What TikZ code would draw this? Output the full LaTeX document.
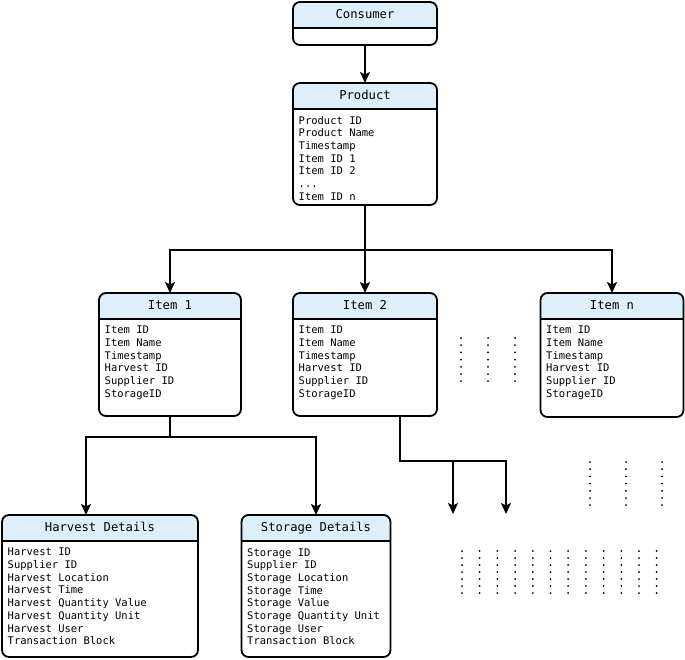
\documentclass[tikz,border=0pt]{standalone}
\usepackage{fontspec}
\newfontfamily\boxfont{DejaVu Sans Mono}
\usepackage{tikz}
\usetikzlibrary{arrows.meta,calc}
\definecolor{headblue}{RGB}{220,239,251}

\tikzset{
  entbox/.style={rectangle, inner sep=0pt, outer sep=0pt, anchor=north},
  boxline/.style={line width=1.8pt},
  headtext/.style={font=\boxfont\fontsize{12.2}{14}\selectfont, inner sep=0pt, text height=8pt, text depth=2pt},
  bodytext/.style={font=\boxfont\fontsize{10.5}{12.7}\selectfont, align=left, inner sep=0pt, anchor=north west},
  link/.style={line width=2pt},
  linkarrow/.style={link, -{Stealth[length=11pt,width=10pt,inset=2.5pt]}},
}

% name, top centre, width, height, title, fields
\newcommand{\entity}[6]{%
  \node[entbox, minimum width=#3, minimum height=#4] (#1) at #2 {};
  \begin{scope}
    \clip[rounded corners=7pt] (#1.north west) rectangle (#1.south east);
    \fill[headblue] (#1.north west) rectangle ([yshift=-26pt]#1.north east);
  \end{scope}
  \draw[boxline] ([yshift=-26pt]#1.north west) -- ([yshift=-26pt]#1.north east);
  \draw[boxline, rounded corners=7pt] (#1.north west) rectangle (#1.south east);
  \node[headtext] (#1-title) at ([yshift=-13pt]#1.north) {#5};
  \node[bodytext] (#1-body) at ([xshift=5.5pt,yshift=-33pt]#1.north west) {#6};
}

\begin{document}
\begin{tikzpicture}[x=1pt,y=-1pt]
  \useasboundingbox (0,0) rectangle (685,659);

  % entities
  \entity{consumer}{(365,2)}{144pt}{43pt}{Consumer}{}
  \entity{product}{(365,83)}{144pt}{122pt}{Product}{Product ID\\Product Name\\Timestamp\\Item ID 1\\Item ID 2\\...\\Item ID n}
  \entity{item1}{(170,293)}{142pt}{123pt}{Item 1}{Item ID\\Item Name\\Timestamp\\Harvest ID\\Supplier ID\\StorageID}
  \entity{item2}{(365,293)}{144pt}{123pt}{Item 2}{Item ID\\Item Name\\Timestamp\\Harvest ID\\Supplier ID\\StorageID}
  \entity{itemn}{(612,293)}{143pt}{124pt}{Item n}{Item ID\\Item Name\\Timestamp\\Harvest ID\\Supplier ID\\StorageID}
  \entity{harvest}{(100,515)}{196pt}{142pt}{Harvest Details}{Harvest ID\\Supplier ID\\Harvest Location\\Harvest Time\\Harvest Quantity Value\\Harvest Quantity Unit\\Harvest User\\Transaction Block}
  \entity{storage}{(316,515)}{149pt}{142pt}{Storage Details}{Storage ID\\Supplier ID\\Storage Location\\Storage Time\\Storage Value\\Storage Quantity Unit\\Storage User\\Transaction Block}

  % connectors
  \draw[linkarrow] (consumer) -- (product);
  \coordinate (split) at (365,250);
  \draw[link] (product.south) -- (split);
  \draw[linkarrow] (split) -| (item1.north);
  \draw[linkarrow] (split) -- (item2.north);
  \draw[linkarrow] (split) -| (itemn.north);

  \coordinate (split1) at (170,437);
  \draw[link] (item1.south) -- (split1);
  \draw[linkarrow] (split1) -| ([xshift=-14pt]harvest.north);
  \draw[linkarrow] (split1) -| (storage.north);

  \coordinate (split2) at (400,461);
  \coordinate (open1) at (453,514);
  \coordinate (open2) at (506,514);
  \draw[linkarrow] ([xshift=35pt]item2.south) -- (split2) -| (open2);
  \draw[linkarrow] (open1 |- split2) -- (open1);

  % more items
  \foreach \x in {461,488,515}
    \foreach \k in {0,...,6}
      \fill (\x,338+7.2*\k) circle (1pt);
  \foreach \x in {590,626,662}
    \foreach \k in {0,...,6}
      \fill (\x,462+7.2*\k) circle (1pt);
  \foreach \i in {0,...,11}
    \foreach \k in {0,...,6}
      \fill (462+17.7*\i,551+7*\k) circle (1pt);
\end{tikzpicture}
\end{document}
